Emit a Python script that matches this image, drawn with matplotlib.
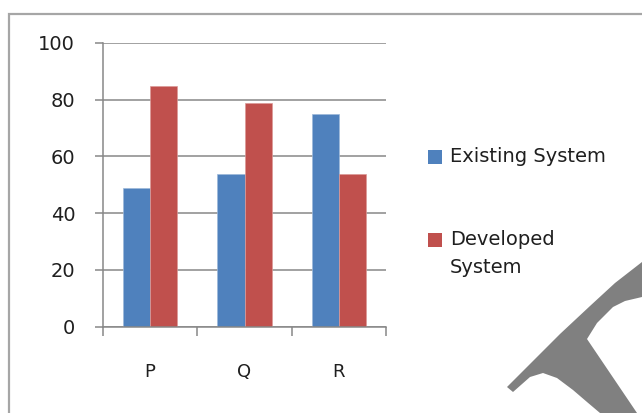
import matplotlib
matplotlib.use("Agg")
import matplotlib.pyplot as plt
import numpy as np
from matplotlib.patches import Rectangle, Polygon

categories = ["P", "Q", "R"]
existing_system = [49, 54, 75]
developed_system = [85, 79, 54]
series_names = ["Existing System", "Developed\nSystem"]
y_ticks = [0, 20, 40, 60, 80, 100]

W, H = 642, 413
BLUE = "#4F81BD"
RED = "#C0504D"
GRID = "#878787"
TEXT = "#1f1f1f"

fig = plt.figure(figsize=(W / 100, H / 100), dpi=100)


def fx(px):
    return px / W


def fy(py):
    return 1 - py / H


# outer chart frame (runs off the right and bottom edges)
fig.add_artist(Rectangle((fx(8.5), fy(430)), fx(660), (430 - 13.5) / H,
                         transform=fig.transFigure, fill=False,
                         edgecolor="#A6A6A6", linewidth=1.6))

left, right, top, bottom = 103, 386, 43, 326.7
ax = fig.add_axes([fx(left), fy(bottom), fx(right - left), (bottom - top) / H])

x = np.arange(len(categories))
bw = 0.287
ax.bar(x - bw / 2, existing_system, bw, color=BLUE, edgecolor="#9DB8DA",
       linewidth=0.5, zorder=3)
ax.bar(x + bw / 2, developed_system, bw, color=RED, edgecolor="#DC9A98",
       linewidth=0.5, zorder=3)

ax.set_xlim(-0.5, len(categories) - 0.5)
ax.set_ylim(0, 100)
ax.set_yticks(y_ticks)
ax.set_yticklabels([str(t) for t in y_ticks])
ax.yaxis.grid(True, color=GRID, linewidth=1.1, zorder=0)
ax.set_axisbelow(True)

for s in ["top", "right"]:
    ax.spines[s].set_visible(False)
for s in ["left", "bottom"]:
    ax.spines[s].set_color(GRID)
    ax.spines[s].set_linewidth(1.1)
    ax.spines[s].set_zorder(4)

ax.tick_params(axis="y", length=6, width=1.1, color=GRID, pad=14,
               labelsize=14, labelcolor=TEXT)
ax.set_xticks(np.arange(len(categories) + 1) - 0.5)
ax.set_xticklabels([])
ax.tick_params(axis="x", which="major", length=6.5, width=1.1, color=GRID)
ax.set_xticks(x, minor=True)
ax.set_xticklabels(categories, minor=True)
ax.tick_params(axis="x", which="minor", length=0, pad=26, labelsize=13,
               labelcolor=TEXT)
for lab in ax.get_yticklabels() + ax.get_xticklabels(minor=True):
    lab.set_family("DejaVu Sans")

# legend drawn beside the plot
legend_items = [(BLUE, series_names[0], 157), (RED, series_names[1], 240)]
for color, label, cy in legend_items:
    fig.add_artist(Rectangle((fx(428), fy(cy + 7)), fx(14), 14 / H,
                             transform=fig.transFigure, facecolor=color,
                             edgecolor="none"))
    fig.text(fx(450), fy(cy - 10), label, ha="left", va="top",
             fontsize=14, color=TEXT, family="DejaVu Sans",
             linespacing=1.6)

# decorative corner stroke
pts = [(507, 387), (535, 359), (560, 334), (590, 306), (615, 283), (642, 262),
       (642, 297), (625, 301), (613, 307), (597, 323), (587, 339),
       (637, 413), (600, 413), (587, 402), (573, 390), (557, 378),
       (543, 373), (530, 377), (513, 392)]
fig.add_artist(Polygon([(fx(a), fy(b)) for a, b in pts], closed=True,
                       transform=fig.transFigure, facecolor="#808080",
                       edgecolor="none"))

fig.savefig("out.png", dpi=100)
